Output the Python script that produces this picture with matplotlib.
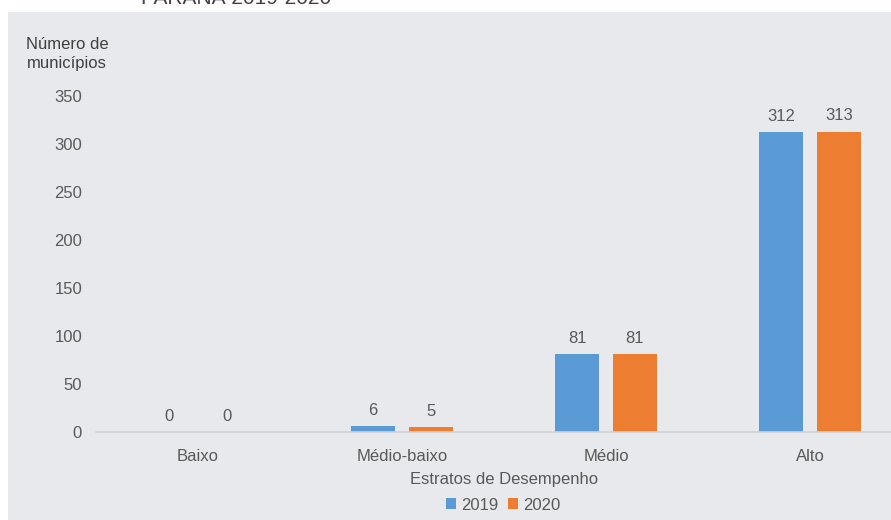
import matplotlib
matplotlib.use("Agg")
import matplotlib.pyplot as plt
import numpy as np
from matplotlib.patches import Rectangle

categorias = ["Baixo", "Médio-baixo", "Médio", "Alto"]
anos = ["2019", "2020"]
valores_2019 = [0, 6, 81, 312]
valores_2020 = [0, 5, 81, 313]
yticks = [0, 50, 100, 150, 200, 250, 300, 350]

azul = "#5B9BD5"
laranja = "#ED7D31"
cinza_txt = "#595959"
fundo = "#E7E9EC"

plt.rcParams['font.family'] = ['Liberation Sans Narrow', 'Liberation Sans', 'DejaVu Sans']

fig = plt.figure(figsize=(8.91, 5.2), dpi=100)
fig.patch.set_facecolor("white")
# painel cinza por tras do grafico
fig.patches.append(Rectangle((8 / 891, 0), 1, 1 - 12 / 520, transform=fig.transFigure,
                             facecolor=fundo, edgecolor="none", zorder=-5))
fig.text(236 / 891, 1 - 8 / 520, "PARANÁ 2019-2020", ha="center", va="bottom",
         fontsize=15, color="#404040")

ax = fig.add_axes([96 / 891, 1 - 432 / 520, 816 / 891, 336 / 520])
ax.set_facecolor("none")
ax.set_zorder(2)

x = np.arange(len(categorias))
w = 0.22
off = 0.142
b1 = ax.bar(x - off, valores_2019, w, color=azul, label=anos[0], zorder=2)
b2 = ax.bar(x + off, valores_2020, w, color=laranja, label=anos[1], zorder=2)

for barras, vals in ((b1, valores_2019), (b2, valores_2020)):
    for b, v in zip(barras, vals):
        ax.annotate(str(v), (b.get_x() + b.get_width() / 2, v), xytext=(0, 6),
                    textcoords="offset points", ha="center", va="bottom",
                    fontsize=12, color=cinza_txt)

ax.set_xlim(-0.5, 3.5)
ax.set_ylim(0, 350)
ax.set_yticks(yticks)
ax.set_xticks(x)
ax.set_xticklabels(categorias)
ax.tick_params(axis="both", length=0, labelsize=12, colors=cinza_txt)
ax.tick_params(axis="y", pad=10)
ax.tick_params(axis="x", pad=12)
for s in ["top", "right", "left"]:
    ax.spines[s].set_visible(False)
ax.spines["bottom"].set_color("#D0D2D5")
ax.spines["bottom"].set_linewidth(1.2)

ax.set_xlabel("Estratos de Desempenho", fontsize=12, color=cinza_txt, labelpad=6)
fig.text(67 / 891, 1 - 54 / 520, "Número de\nmunicípios", ha="center", va="center",
         fontsize=12, color="#404040", linespacing=1.3)

fig.legend(handles=[b1, b2], labels=anos, loc="center", bbox_to_anchor=(503 / 891, 1 - 505 / 520),
           ncol=2, frameon=False, fontsize=12, handlelength=0.6, handleheight=0.6,
           handletextpad=0.3, columnspacing=0.6, labelcolor=cinza_txt)

fig.savefig("out.png", dpi=100, facecolor=fig.get_facecolor())
